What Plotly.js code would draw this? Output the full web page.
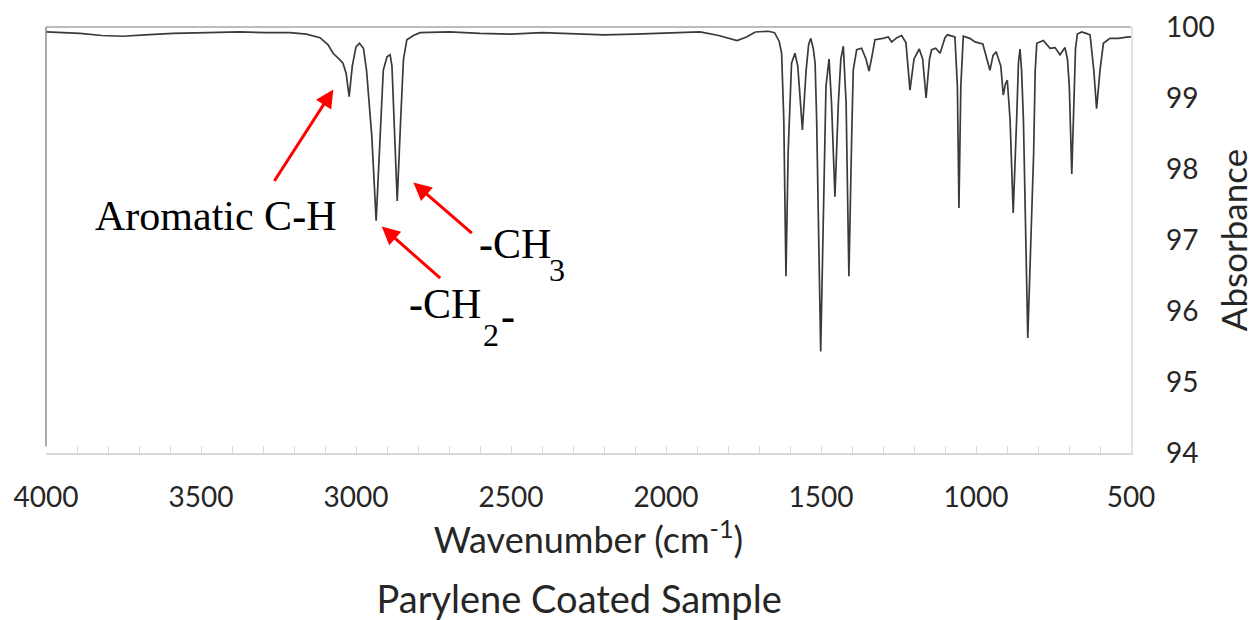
<!DOCTYPE html>
<html>
<head>
<meta charset="utf-8">
<script src="https://cdn.plot.ly/plotly-3.0.1.min.js"></script>
<style>
html,body{margin:0;padding:0;background:#fff;}
#chart{width:1259px;height:620px;}
</style>
</head>
<body>
<div id="chart"></div>
<script>
// Wavenumber (cm-1), high to low
const wavenumber = [
 4000,3950,3890,3820,3752,3680,3590,3480,3374,3290,3213,3160,3116,3090,3074,3055,3042,3032,3022,3012,
 3000,2989,2976,2966,2949,2935,2923,2912,2900,2890,2884,2877,2867,2856,2847,2836,2815,2793,2700,2600,
 2500,2400,2300,2200,2100,2000,1950,1890,1830,1771,1740,1712,1670,1650,1635,1627,1620,1613,1606,1595,
 1584,1575,1570,1560,1548,1540,1533,1525,1519,1514,1501,1490,1484,1474,1466,1455,1444,1436,1428,1419,
 1410,1401,1396,1385,1369,1355,1345,1335,1326,1300,1283,1272,1255,1240,1226,1213,1200,1183,1172,1161,
 1150,1143,1130,1116,1100,1092,1068,1060,1055,1049,1041,1020,1003,978,965,955,945,935,920,912,
 905,899,890,880,869,863,858,853,847,833,814,809,804,783,761,745,729,713,705,699,
 691,684,679,673,659,645,632,620,611,600,589,568,540,509,500
];
// Absorbance values at those wavenumbers
const absorbance = [
 99.93,99.92,99.91,99.88,99.87,99.89,99.91,99.92,99.93,99.92,99.92,99.90,99.85,99.75,99.63,99.55,99.49,99.35,99.02,99.45,
 99.72,99.77,99.70,99.39,98.46,97.27,98.46,99.39,99.58,99.61,99.45,98.69,97.55,98.69,99.54,99.82,99.88,99.92,99.93,99.91,
 99.90,99.92,99.91,99.89,99.90,99.91,99.92,99.93,99.88,99.81,99.86,99.93,99.94,99.92,99.80,99.63,98.69,96.49,98.23,99.49,
 99.63,99.45,99.16,98.55,99.39,99.75,99.84,99.70,99.49,98.69,95.43,98.23,99.16,99.55,98.93,97.61,98.93,99.55,99.73,98.93,
 96.49,98.46,99.39,99.68,99.70,99.55,99.38,99.60,99.82,99.84,99.86,99.79,99.85,99.88,99.78,99.11,99.55,99.69,99.55,99.00,
 99.55,99.68,99.70,99.63,99.85,99.89,99.86,99.16,97.45,99.16,99.87,99.84,99.79,99.76,99.55,99.39,99.60,99.65,99.45,99.04,
 99.20,99.25,98.69,97.38,98.69,99.50,99.69,99.39,98.69,95.62,98.23,99.39,99.77,99.81,99.70,99.71,99.61,99.71,99.55,99.16,
 97.93,99.16,99.70,99.90,99.93,99.91,99.89,99.39,98.85,99.39,99.77,99.84,99.84,99.86,99.86
];
const xTicks = [4000,3500,3000,2500,2000,1500,1000,500];
const yTicks = [94,95,96,97,98,99,100];
const chartTitle = "Parylene Coated Sample";
const xTitle = "Wavenumber (cm<sup>-1</sup>)";
const yTitle = "Absorbance";
const peakLabels = ["Aromatic C<b>-</b>H", "<b>-</b>CH", "3", "<b>-</b>CH", "2", "<b>-</b>"];

const sans = "Lato, 'Open Sans', sans-serif";
const serif = "'Liberation Serif', 'DejaVu Serif', serif";

const trace = {
  x: wavenumber, y: absorbance, type: 'scatter', mode: 'lines',
  line: {color: '#3a3a3a', width: 1.7}, hoverinfo: 'skip'
};

const arrowStyle = {showarrow: true, arrowhead: 2, arrowsize: 1.2, arrowwidth: 3, arrowcolor: '#ff0000',
  text: '', axref: 'pixel', ayref: 'pixel', standoff: 0};

const layout = {
  width: 1259, height: 620,
  margin: {l: 46, r: 128, t: 27, b: 167},
  paper_bgcolor: '#ffffff', plot_bgcolor: '#ffffff',
  showlegend: false,
  title: {text: chartTitle, x: 0.46, xanchor: 'center', y: 0.032, yanchor: 'middle', yref: 'container',
          font: {family: sans, size: 38, color: '#262626'}},
  xaxis: {
    range: [4000, 500], tickvals: xTicks, ticktext: xTicks.map(String),
    ticks: 'inside', ticklen: 7, tickcolor: '#d9d9d9', tickwidth: 1,
    minor: {dtick: 100, ticks: 'inside', ticklen: 7, tickcolor: '#d9d9d9', tickwidth: 1},
    showline: true, linecolor: '#d9d9d9', linewidth: 1.5,
    showgrid: false, zeroline: false, ticklabelstandoff: 19,
    tickfont: {family: sans, size: 28, color: '#262626'},
    title: {text: xTitle, standoff: 10, font: {family: sans, size: 36, color: '#262626'}}
  },
  yaxis: {
    range: [94, 100], tickvals: yTicks, ticktext: yTicks.map(String), side: 'right',
    ticks: '', showline: true, linecolor: '#e3e3e3', linewidth: 1.5,
    showgrid: false, zeroline: false, ticklabelstandoff: 28,
    tickfont: {family: sans, size: 28, color: '#262626'},
    title: {text: yTitle, standoff: 8, font: {family: sans, size: 35, color: '#262626'}}
  },
  shapes: [
    {type: 'line', xref: 'paper', yref: 'paper', x0: 0, x1: 1, y0: 1, y1: 1, line: {color: '#a6a6a6', width: 1.5}},
    {type: 'line', xref: 'paper', yref: 'paper', x0: 0, x1: 0, y0: 0.015, y1: 1, line: {color: '#8c8c8c', width: 1.5}}
  ],
  annotations: [
    Object.assign({}, arrowStyle, {x: 3073, y: 99.12, ax: -60, ay: 93}),
    Object.assign({}, arrowStyle, {x: 2917, y: 97.19, ax: 60, ay: 53}),
    Object.assign({}, arrowStyle, {x: 2815, y: 97.81, ax: 60, ay: 52}),
    {x: 3848, y: 97.345, text: peakLabels[0], showarrow: false, xanchor: 'left', yanchor: 'middle',
     font: {family: serif, size: 42, color: '#000'}},
    {x: 2610, y: 96.95, text: peakLabels[1], showarrow: false, xanchor: 'left', yanchor: 'middle',
     font: {family: serif, size: 42, color: '#000'}},
    {x: 2384, y: 96.577, text: peakLabels[2], showarrow: false, xanchor: 'left', yanchor: 'middle',
     font: {family: serif, size: 32, color: '#000'}},
    {x: 2835, y: 96.10, text: peakLabels[3], showarrow: false, xanchor: 'left', yanchor: 'middle',
     font: {family: serif, size: 42, color: '#000'}},
    {x: 2596, y: 95.662, text: peakLabels[4], showarrow: false, xanchor: 'left', yanchor: 'middle',
     font: {family: serif, size: 32, color: '#000'}},
    {x: 2538, y: 95.93, text: peakLabels[5], showarrow: false, xanchor: 'left', yanchor: 'middle',
     font: {family: serif, size: 42, color: '#000'}}
  ]
};

Plotly.newPlot('chart', [trace], layout, {displayModeBar: false, staticPlot: true});
</script>
</body>
</html>
